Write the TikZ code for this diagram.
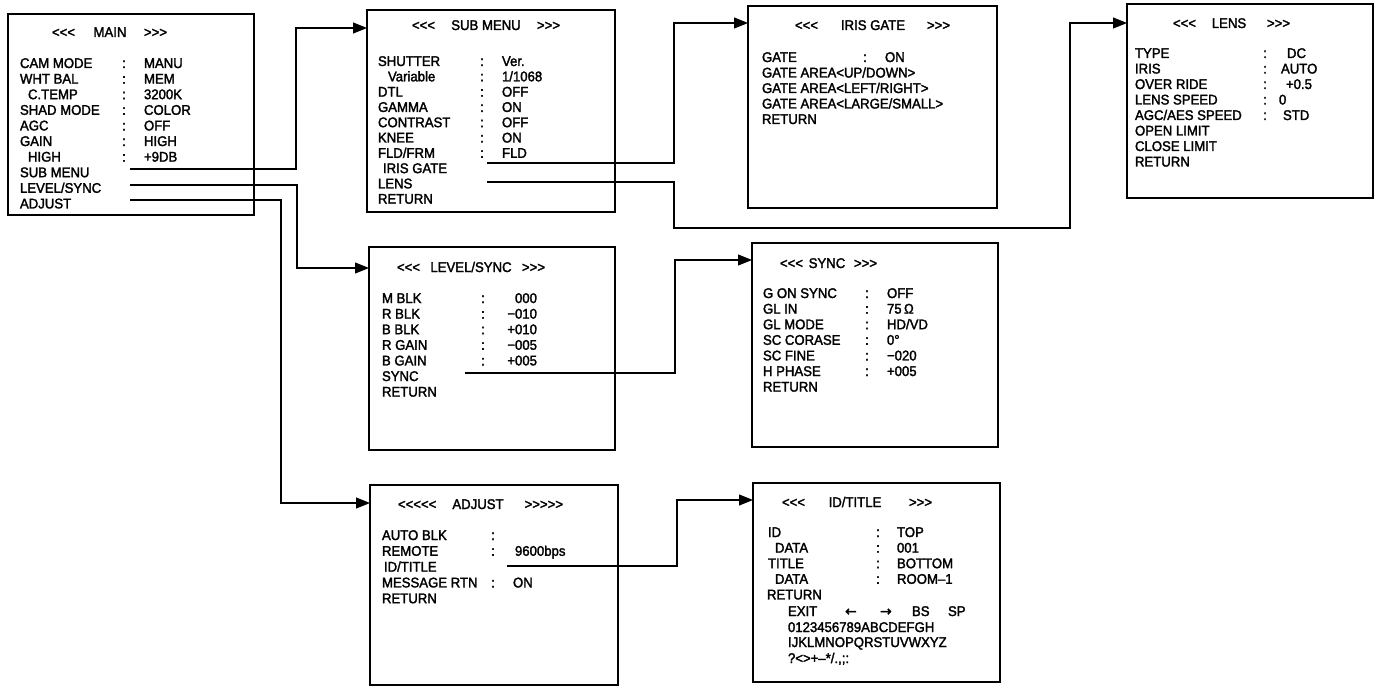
\documentclass[tikz,border=0pt]{standalone}
\usepackage{fontspec}
\setmainfont{Liberation Sans}[Ligatures=TeXOff, FakeStretch=0.94, FakeBold=2]
\newfontfamily\symf{DejaVu Sans}[FakeBold=1.5]
\usetikzlibrary{arrows.meta}
\newcommand\mrow[7]{%
  \node[txt] (#1k) at (#3,#2+5) {#4};
  \node[txt,anchor=base] (#1c) at (#5,#2+5) {:};
  \node[txt] (#1v) at (#6,#2+5) {#7};}
\newcommand\mrowr[7]{%
  \node[txt] (#1k) at (#3,#2+5) {#4};
  \node[txt,anchor=base] (#1c) at (#5,#2+5) {:};
  \node[txt,anchor=base east] (#1v) at (#6,#2+5) {#7};}
\newcommand\mline[4]{%
  \node[txt] (#1) at (#3,#2+5) {#4};}
\newcommand\mtitle[8]{%
  \node[txt] (#1a) at (#3,#2+5) {#4};
  \node[txt,anchor=base] (#1b) at (#5,#2+5) {#6};
  \node[txt,anchor=base east] (#1c) at (#7,#2+5) {#8};}
\begin{document}
\begin{tikzpicture}[x=1pt,y=-1pt,
  box/.style={draw, line width=1.8pt, inner sep=0pt, outer sep=0pt, anchor=north west, rectangle},
  txt/.style={inner sep=0pt, outer sep=0pt, anchor=base west, font=\fontsize{14}{16}\selectfont},
  conn/.style={line width=1.1pt},
  arr/.style={conn, -{Triangle[length=14pt,width=11pt]}}
]
\useasboundingbox (0,0) rectangle (1375,687);

% ---------- boxes ----------
\node[box, minimum width=246pt, minimum height=201pt] (main) at (8,14) {};
\node[box, minimum width=248pt, minimum height=202pt] (sub) at (367,10) {};
\node[box, minimum width=249pt, minimum height=202pt] (iris) at (748,6) {};
\node[box, minimum width=246pt, minimum height=194pt] (lens) at (1127,4) {};
\node[box, minimum width=246pt, minimum height=203pt] (lvl) at (369,247) {};
\node[box, minimum width=246pt, minimum height=204pt] (sync) at (752,243) {};
\node[box, minimum width=248pt, minimum height=200pt] (adj) at (370,485) {};
\node[box, minimum width=247pt, minimum height=199pt] (idt) at (753,483) {};

% ---------- MAIN ----------
\mtitle{mainT}{32}{52}{<<<}{110}{MAIN}{167}{>>>}
\mrow{m1}{63}{20}{CAM MODE}{124}{144}{MANU}
\mrow{m2}{78.6}{20}{WHT BAL}{124}{144}{MEM}
\mrow{m3}{94.2}{28}{C.TEMP}{124}{144}{3200K}
\mrow{m4}{109.8}{20}{SHAD MODE}{124}{144}{COLOR}
\mrow{m5}{125.4}{20}{AGC}{124}{144}{OFF}
\mrow{m6}{141}{20}{GAIN}{124}{144}{HIGH}
\mrow{m7}{156.6}{28}{HIGH}{124}{144}{+9DB}
\mline{m8}{172.2}{20}{SUB MENU}
\mline{m9}{187.8}{20}{LEVEL/SYNC}
\mline{m10}{203.4}{20}{ADJUST}
\coordinate (ms) at (130,169);
\coordinate (ml) at (130,185);
\coordinate (ma) at (130,200);

% ---------- SUB MENU ----------
\mtitle{subT}{25}{412}{<<<}{486}{SUB MENU}{560}{>>>}
\mrow{s1}{61}{378}{SHUTTER}{482}{502}{Ver.}
\mrow{s2}{76.3}{388}{Variable}{482}{502}{1/1068}
\mrow{s3}{91.6}{378}{DTL}{482}{502}{OFF}
\mrow{s4}{106.9}{378}{GAMMA}{482}{502}{ON}
\mrow{s5}{122.2}{378}{CONTRAST}{482}{502}{OFF}
\mrow{s6}{137.5}{378}{KNEE}{482}{502}{ON}
\mrow{s7}{152.8}{378}{FLD/FRM}{482}{502}{FLD}
\mline{s8}{168.1}{383}{IRIS GATE}
\mline{s9}{183.4}{378}{LENS}
\mline{s10}{198.7}{378}{RETURN}
\coordinate (si) at (487,163);
\coordinate (sl) at (487,182);

% ---------- IRIS GATE ----------
\mtitle{irisT}{25}{795}{<<<}{873}{IRIS GATE}{950}{>>>}
\mrow{i1}{57}{762}{GATE}{865}{885}{ON}
\mline{i2}{72.5}{762}{GATE AREA<UP/DOWN>}
\mline{i3}{88}{762}{GATE AREA<LEFT/RIGHT>}
\mline{i4}{103.5}{762}{GATE AREA<LARGE/SMALL>}
\mline{i5}{119}{762}{RETURN}

% ---------- LENS ----------
\mtitle{lensT}{23}{1173}{<<<}{1229}{LENS}{1290}{>>>}
\mrow{n1}{53}{1135}{TYPE}{1265}{1287}{DC}
\mrow{n2}{68.5}{1135}{IRIS}{1265}{1281}{AUTO}
\mrow{n3}{84}{1135}{OVER RIDE}{1265}{1286}{+0.5}
\mrow{n4}{99.5}{1135}{LENS SPEED}{1265}{1279}{0}
\mrow{n5}{115}{1135}{AGC/AES SPEED}{1265}{1283}{STD}
\mline{n6}{130.5}{1135}{OPEN LIMIT}
\mline{n7}{146}{1135}{CLOSE LIMIT}
\mline{n8}{161.5}{1135}{RETURN}

% ---------- LEVEL/SYNC ----------
\mtitle{lvlT}{267}{397}{<<<}{471}{LEVEL/SYNC}{545}{>>>}
\mrowr{l1}{298}{382}{M BLK}{483}{537}{000}
\mrowr{l2}{313.6}{382}{R BLK}{483}{537}{−010}
\mrowr{l3}{329.2}{382}{B BLK}{483}{537}{+010}
\mrowr{l4}{344.8}{382}{R GAIN}{483}{537}{−005}
\mrowr{l5}{360.4}{382}{B GAIN}{483}{537}{+005}
\mline{l6}{376}{382}{SYNC}
\mline{l7}{391.6}{382}{RETURN}
\coordinate (ls) at (465,373);

% ---------- SYNC ----------
\mtitle{syncT}{263}{780}{<<<}{827}{SYNC}{877}{>>>}
\mrow{y1}{293}{763}{G ON SYNC}{867}{887}{OFF}
\mrow{y2}{308.6}{763}{GL IN}{867}{887}{75\,Ω}
\mrow{y3}{324.2}{763}{GL MODE}{867}{887}{HD/VD}
\mrow{y4}{339.8}{763}{SC CORASE}{867}{887}{0°}
\mrow{y5}{355.4}{763}{SC FINE}{867}{887}{−020}
\mrow{y6}{371}{763}{H PHASE}{867}{887}{+005}
\mline{y7}{386.6}{763}{RETURN}

% ---------- ADJUST ----------
\mtitle{adjT}{504}{398}{<<<<<}{478}{ADJUST}{563}{>>>>>}
\node[txt] (a1k) at (382,535+5) {AUTO BLK};
\node[txt,anchor=base] (a1c) at (493,535+5) {:};
\mrow{a2}{550.8}{382}{REMOTE}{493}{515}{9600bps}
\mline{a3}{566.6}{384}{ID/TITLE}
\mrow{a4}{582.4}{382}{MESSAGE RTN}{493}{513}{ON}
\mline{a5}{598.2}{382}{RETURN}
\coordinate (ai) at (507,566);

% ---------- ID/TITLE ----------
\mtitle{idtT}{502}{782}{<<<}{855}{ID/TITLE}{932}{>>>}
\mrow{d1}{532}{768}{ID}{878}{897}{TOP}
\mrow{d2}{547.6}{775}{DATA}{878}{897}{001}
\mrow{d3}{563.2}{768}{TITLE}{878}{897}{BOTTOM}
\mrow{d4}{578.8}{775}{DATA}{878}{897}{ROOM–1}
\mline{d5}{594.4}{767}{RETURN}
\mline{d6}{611}{788}{EXIT}
\node[txt] (d6a) at (845,611+5) {\symf ←};
\node[txt] (d6b) at (880,611+5) {\symf →};
\node[txt] (d6c) at (912,611+5) {BS};
\node[txt] (d6d) at (948,611+5) {SP};
\mline{d7}{627}{788}{0123456789ABCDEFGH}
\mline{d8}{642}{788}{IJKLMNOPQRSTUVWXYZ}
\mline{d9}{658}{788}{?<>+–*/.,;:}

% ---------- connectors ----------
\draw[arr] (ms) -- ++(166,0) |- ([yshift=-18pt]sub.north west);
\draw[arr] (ml) -- ++(167,0) |- ([yshift=-21pt]lvl.north west);
\draw[arr] (ma) -- ++(151,0) |- ([yshift=-18pt]adj.north west);
\draw[arr] (si) -- ++(187,0) |- ([yshift=-17pt]iris.north west);
\draw[arr] (sl) -- ++(187,0) -- ++(0,46) -- ++(396,0) |- ([yshift=-19pt]lens.north west);
\draw[arr] (ls) -- ++(210,0) |- ([yshift=-17pt]sync.north west);
\draw[arr] (ai) -- ++(170,0) |- ([yshift=-17pt]idt.north west);
\end{tikzpicture}
\end{document}
